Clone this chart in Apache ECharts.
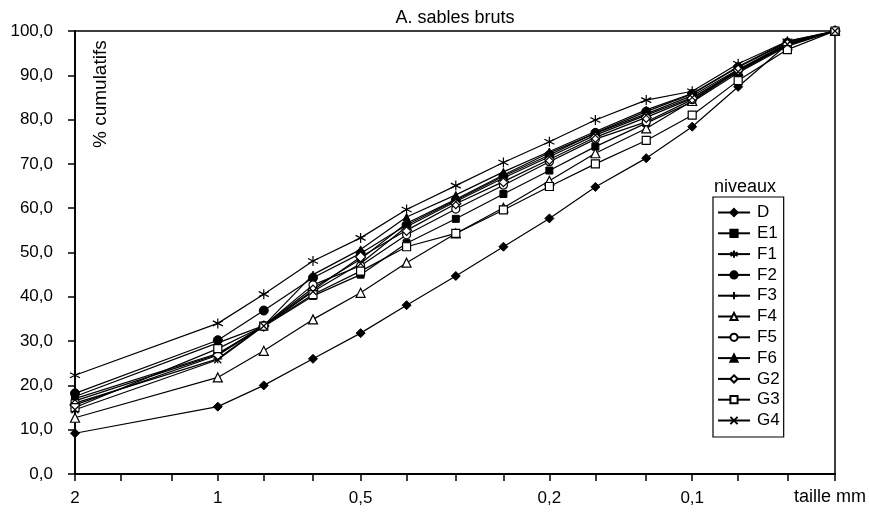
<!DOCTYPE html>
<html>
<head>
<meta charset="utf-8">
<script src="https://cdn.jsdelivr.net/npm/echarts@6/dist/echarts.min.js"></script>
<style>
  html, body { margin: 0; padding: 0; background: #fff; }
  #chart { width: 869px; height: 513px; }
</style>
</head>
<body>
<div id="chart"></div>
<script>
// Sieve openings (mm), finest last
const sizes = [2, 1, 0.8, 0.63, 0.5, 0.4, 0.315, 0.25, 0.2, 0.16, 0.125, 0.1, 0.08, 0.063, 0.05];
// Full sieve series used for the tick marks
const tickSizes = [2, 1.6, 1.25, 1, 0.8, 0.63, 0.5, 0.4, 0.315, 0.25, 0.2, 0.16, 0.125, 0.1, 0.08, 0.063, 0.05];
const labelSizes = [2, 1, 0.5, 0.2, 0.1];

// Cumulative percentages per level
const D  = [9.2, 15.2, 20.0, 26.0, 31.8, 38.1, 44.7, 51.3, 57.7, 64.8, 71.3, 78.4, 87.4, 97.0, 100];
const E1 = [17.0, 27.2, 33.3, 40.2, 45.0, 52.1, 57.6, 63.2, 68.5, 73.9, 79.2, 84.0, 90.6, 96.6, 100];
const F1 = [22.3, 34.0, 40.6, 48.1, 53.3, 59.7, 65.1, 70.3, 75.0, 79.9, 84.4, 86.4, 92.6, 97.7, 100];
const F2 = [18.2, 30.2, 36.9, 44.3, 49.8, 56.2, 61.8, 67.2, 72.0, 77.0, 81.8, 85.8, 91.8, 97.4, 100];
const F3 = [16.0, 26.0, 33.5, 42.0, 48.5, 56.6, 62.0, 67.5, 72.5, 76.9, 81.3, 85.4, 91.3, 97.2, 100];
const F4 = [12.7, 21.8, 27.8, 34.9, 40.9, 47.7, 54.3, 60.1, 66.2, 72.4, 78.0, 84.2, 91.0, 96.8, 100];
const F5 = [16.5, 27.0, 33.5, 42.7, 47.0, 54.0, 59.8, 65.2, 70.5, 75.6, 79.5, 84.5, 91.0, 97.0, 100];
const F6 = [17.5, 29.6, 33.5, 45.0, 50.7, 58.0, 63.0, 68.2, 72.8, 77.3, 82.2, 85.9, 92.0, 97.6, 100];
const G2 = [15.6, 26.8, 33.4, 41.5, 49.0, 55.0, 61.0, 66.0, 71.0, 76.0, 80.5, 84.8, 91.2, 97.0, 100];
const G3 = [15.0, 28.3, 33.4, 40.5, 45.8, 51.3, 54.3, 59.6, 64.9, 70.0, 75.3, 81.0, 88.8, 95.8, 100];
const G4 = [14.5, 25.8, 33.4, 41.2, 47.5, 55.8, 61.5, 66.8, 71.6, 76.5, 81.0, 85.0, 90.8, 97.0, 100];

const FONT = 'Liberation Sans, Arial, sans-serif';
const BLACK = '#000';

const ASTERISK = 'path://M5,0L5,10M0.67,2.5L9.33,7.5M0.67,7.5L9.33,2.5';
const PLUS = 'path://M5,0L5,10M0,5L10,5';
const CROSS = 'path://M0,0L10,10M0,10L10,0';

const filled = { color: BLACK, borderColor: BLACK, borderWidth: 1 };
const hollow = { color: '#fff', borderColor: BLACK, borderWidth: 1.2 };
const stroked = { color: BLACK, borderColor: BLACK, borderWidth: 1.2 };

const levels = [
  { name: 'D',  data: D,  symbol: 'diamond',  size: 9,  style: filled },
  { name: 'E1', data: E1, symbol: 'rect',     size: 7,  style: filled },
  { name: 'F1', data: F1, symbol: ASTERISK,   size: 10, style: stroked },
  { name: 'F2', data: F2, symbol: 'circle',   size: 9,  style: filled },
  { name: 'F3', data: F3, symbol: PLUS,       size: 9,  style: stroked },
  { name: 'F4', data: F4, symbol: 'triangle', size: 9,  style: hollow },
  { name: 'F5', data: F5, symbol: 'circle',   size: 8,  style: hollow },
  { name: 'F6', data: F6, symbol: 'triangle', size: 7,  style: filled },
  { name: 'G2', data: G2, symbol: 'diamond',  size: 10, style: hollow },
  { name: 'G3', data: G3, symbol: 'rect',     size: 8,  style: hollow },
  { name: 'G4', data: G4, symbol: CROSS,      size: 7,  style: stroked }
];

const lg = v => Math.log10(v);
const fmtNum = (v, d) => v.toFixed(d).replace('.', ',');

const series = levels.map(l => ({
  name: l.name,
  type: 'line',
  data: sizes.map((s, i) => [lg(s), l.data[i]]),
  symbol: l.symbol,
  symbolSize: l.size,
  showAllSymbol: true,
  lineStyle: { color: BLACK, width: 1.2 },
  itemStyle: l.style,
  emphasis: { disabled: true },
  animation: false
}));

const chart = echarts.init(document.getElementById('chart'), null, { renderer: 'canvas' });
chart.setOption({
  backgroundColor: '#fff',
  animation: false,
  textStyle: { fontFamily: FONT },
  grid: { left: 75, right: 34, top: 31, bottom: 39, show: true,
          borderColor: BLACK, borderWidth: 1.5, backgroundColor: 'transparent' },
  legend: {
    orient: 'vertical',
    left: 713, top: 197,
    padding: [7, 4, 8, 4],
    itemGap: 3.8,
    itemWidth: 32, itemHeight: 9,
    borderColor: BLACK, borderWidth: 1.2,
    textStyle: { fontFamily: FONT, fontSize: 17, color: BLACK, padding: [0, 0, 0, 2] },
    data: levels.map(l => l.name)
  },
  xAxis: {
    type: 'value',
    inverse: true,
    min: lg(0.05),
    max: lg(2),
    axisLine: { show: true, onZero: false, lineStyle: { color: BLACK, width: 1.8 } },
    axisTick: { show: true, length: 7, lineStyle: { color: BLACK, width: 1.5 },
                customValues: tickSizes.map(lg) },
    axisLabel: { customValues: labelSizes.map(lg), margin: 16,
                 fontFamily: FONT, fontSize: 17, color: BLACK,
                 formatter: v => String(+Math.pow(10, v).toFixed(3)).replace('.', ',') },
    splitLine: { show: false }
  },
  yAxis: {
    type: 'value',
    min: 0, max: 100, interval: 10,
    axisLine: { show: true, onZero: false, lineStyle: { color: BLACK, width: 1.8 } },
    axisTick: { show: true, length: 7, lineStyle: { color: BLACK, width: 1.5 } },
    axisLabel: { margin: 22, fontFamily: FONT, fontSize: 17, color: BLACK,
                 formatter: v => fmtNum(v, 1) },
    splitLine: { show: false }
  },
  graphic: [
    { type: 'text', x: 455, y: 18,
      style: { text: 'A. sables bruts', fontFamily: FONT, fontSize: 18, fill: BLACK,
               textAlign: 'center', textVerticalAlign: 'middle' } },
    { type: 'text', x: 745, y: 187,
      style: { text: 'niveaux', fontFamily: FONT, fontSize: 18, fill: BLACK,
               textAlign: 'center', textVerticalAlign: 'middle' } },
    { type: 'text', x: 101, y: 148, rotation: Math.PI / 2,
      style: { text: '% cumulatifs', fontFamily: FONT, fontSize: 19, fill: BLACK,
               textAlign: 'left', textVerticalAlign: 'middle' } },
    { type: 'text', x: 866, y: 497,
      style: { text: 'taille mm', fontFamily: FONT, fontSize: 18, fill: BLACK,
               textAlign: 'right', textVerticalAlign: 'middle' } }
  ],
  series: series
});
</script>
</body>
</html>
